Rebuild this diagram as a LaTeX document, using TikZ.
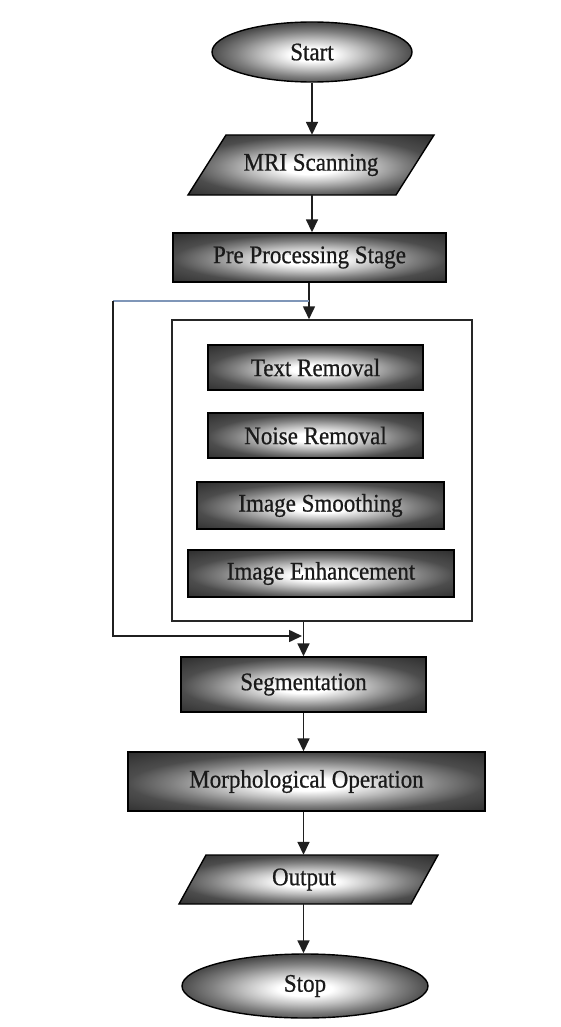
\documentclass[tikz,border=0pt]{standalone}
\usepackage{fontspec}
\setmainfont{Liberation Serif}
\newfontfamily\lblfont{Liberation Serif}[FakeBold=0.7]
\usetikzlibrary{shapes.geometric,arrows.meta}
\pgfdeclareradialshading{boxshade}{\pgfpoint{0bp}{-2.5bp}}{color(0bp)=(white); color(5.5bp)=(white); color(12.5bp)=(black!25); color(19bp)=(black!50); color(25bp)=(black!70); color(36bp)=(black!82); color(50bp)=(black!82)}
\definecolor{txt}{HTML}{1A1A1A}
\definecolor{loopblue}{HTML}{7F96B8}
\newcommand{\lbl}[1]{\scalebox{1}[1.1]{#1}}
\tikzset{
  shaded/.style={shading=boxshade, draw=black, line width=1.4pt, text=txt,
     font=\lblfont\fontsize{23}{26}\selectfont, inner sep=0pt},
  procbox/.style={shaded, rectangle},
  termnode/.style={shaded, ellipse},
  ionode/.style={rectangle, draw=none, text=txt, font=\lblfont\fontsize{23}{26}\selectfont, inner sep=0pt},
  conn/.style={line width=1.6pt, draw=black!88},
  arr/.style={conn, -{Triangle[length=13pt,width=12pt]}},
}
\begin{document}
\begin{tikzpicture}[x=1pt,y=-1pt]
\useasboundingbox (0,0) rectangle (560,1027);
\fill[white] (0,0) rectangle (560,1027);

% Start
\node[termnode, minimum width=200pt, minimum height=60pt] (start) at (312,52) {\lbl{Start}};

% MRI Scanning (parallelogram)
\path[shading=boxshade, draw=black, line width=1.4pt] (188,195) -- (396,195) -- (434,135) -- (226,135) -- cycle;
\node[ionode, minimum width=170pt, minimum height=60pt] (mri) at (311,165) {\lbl{MRI Scanning}};

% Pre processing
\node[procbox, minimum width=273pt, minimum height=49pt] (pre) at (309.5,257.5) {\lbl{Pre Processing Stage}};

% Inner container
\node[rectangle, draw=black!85, line width=1.5pt, fill=white, minimum width=300pt, minimum height=301pt, inner sep=0pt] (inner) at (322,470.5) {};
\node[procbox, minimum width=215pt, minimum height=45pt] (text) at (315.5,367.5) {\lbl{Text Removal}};
\node[procbox, minimum width=215pt, minimum height=45pt] (noise) at (315.5,435.5) {\lbl{Noise Removal}};
\node[procbox, minimum width=247pt, minimum height=47pt] (smooth) at (320.5,505.5) {\lbl{Image Smoothing}};
\node[procbox, minimum width=266pt, minimum height=47pt] (enh) at (321,573.5) {\lbl{Image Enhancement}};

% Segmentation
\node[procbox, minimum width=245pt, minimum height=55pt] (seg) at (303.5,684.5) {\lbl{Segmentation}};
% Morphological
\node[procbox, minimum width=357pt, minimum height=59pt] (morph) at (306.5,781.5) {\lbl{Morphological Operation}};

% Output (parallelogram)
\path[shading=boxshade, draw=black, line width=1.4pt] (179,904) -- (411,904) -- (438,855) -- (206,855) -- cycle;
\node[ionode, minimum width=180pt, minimum height=49pt] (out) at (304,879.5) {\lbl{Output}};

% Stop
\node[termnode, minimum width=246pt, minimum height=64pt] (stop) at (305,986) {\lbl{Stop}};

% loop coordinates
\coordinate (split) at (309,301);
\coordinate (lt) at (113,301);
\coordinate (lb) at (113,636);
\coordinate (merge) at (302,636);

% connectors
\draw[arr] (start.south) -- (start.south |- mri.north);
\draw[arr] (mri.south -| start.south) -- (start.south |- pre.north);
\draw[arr] (pre.south -| split) -- (split |- inner.north);
\draw[conn, draw=loopblue] (split) -- (lt);
\draw[arr] (lt) -- (lb) -- (merge);
\draw[arr] (seg.north |- inner.south) -- (seg.north);
\draw[arr] (seg.south) -- (morph.north -| seg.south);
\draw[arr] (morph.south -| seg.south) -- (out.north -| seg.south);
\draw[arr] (out.south -| seg.south) -- (stop.north -| seg.south);
\end{tikzpicture}
\end{document}
